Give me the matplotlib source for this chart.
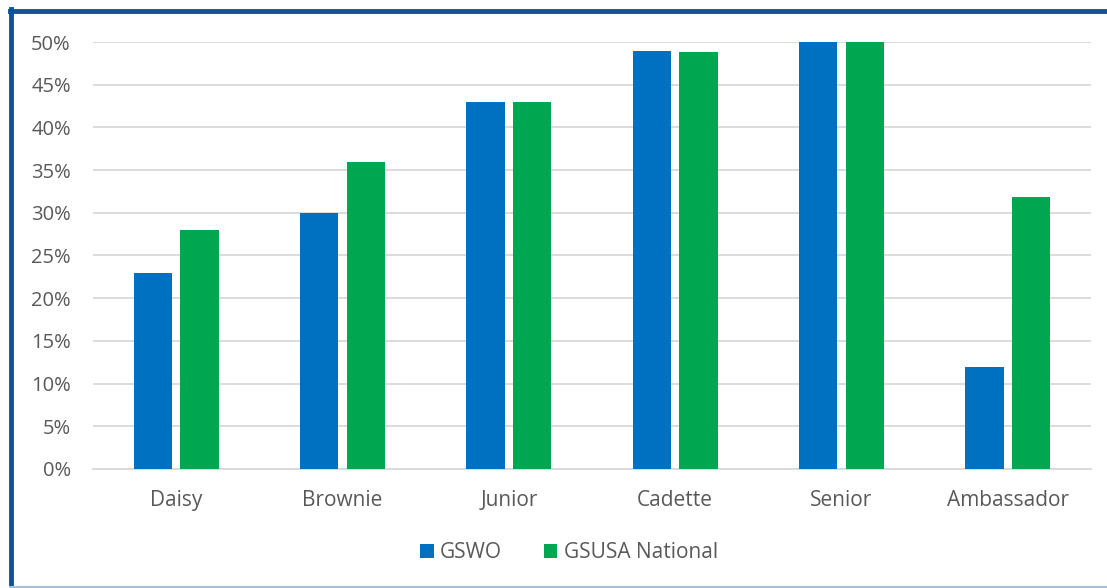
import numpy as np
import matplotlib.pyplot as plt
from matplotlib.lines import Line2D
from matplotlib.ticker import PercentFormatter

categories = ['Daisy', 'Brownie', 'Junior', 'Cadette', 'Senior', 'Ambassador']
gswo = [23, 30, 43, 49, 50, 12]
gsusa = [28, 36, 43, 48.8, 50, 31.8]
series_names = ['GSWO', 'GSUSA National']

blue = '#0070C0'
green = '#00A650'
text_gray = '#595959'

plt.rcParams['font.family'] = ['Open Sans', 'DejaVu Sans']

fig = plt.figure(figsize=(11.07, 5.88), dpi=100)
W, H = 1107, 588
ax = fig.add_axes([93 / W, 119 / H, (1091 - 93) / W, (546 - 119) / H])

x = np.arange(len(categories))
width = 0.23
gap = 0.05
ax.bar(x - (width + gap) / 2, gswo, width, color=blue, label=series_names[0], zorder=3)
ax.bar(x + (width + gap) / 2, gsusa, width, color=green, label=series_names[1], zorder=3)

ax.set_xlim(-0.5, len(categories) - 0.5)
ax.set_ylim(0, 50)
ax.set_yticks(np.arange(0, 51, 5))
ax.yaxis.set_major_formatter(PercentFormatter(decimals=0))
ax.grid(axis='y', color='#D9D9D9', linewidth=1.3, zorder=0)
ax.set_xticks(x)
ax.set_xticklabels(categories)
ax.tick_params(axis='y', length=0, pad=16, labelsize=14.5, labelcolor=text_gray)
ax.tick_params(axis='x', length=0, pad=15, labelsize=15, labelcolor=text_gray)
for side in ['top', 'right', 'left']:
    ax.spines[side].set_visible(False)
ax.spines['bottom'].set_color('#D9D9D9')
ax.spines['bottom'].set_linewidth(1.3)

ax.legend(loc='center', bbox_to_anchor=(569 / W, 1 - 553 / H), bbox_transform=fig.transFigure,
          ncol=2, frameon=False, fontsize=15, labelcolor=text_gray,
          handlelength=0.65, handleheight=0.65, handletextpad=0.3, columnspacing=2.0)

# frame around the chart
fig.add_artist(Line2D([10 / W, 1], [1 - 10.5 / H, 1 - 10.5 / H], color='#0B539E', linewidth=3.5))
fig.add_artist(Line2D([10.5 / W, 10.5 / W], [0, 1 - 9 / H], color='#0B539E', linewidth=3.5))
fig.add_artist(Line2D([10 / W, 1], [1.5 / H, 1.5 / H], color='#A9C0D6', linewidth=1.5))

fig.savefig('out.png', dpi=100)
